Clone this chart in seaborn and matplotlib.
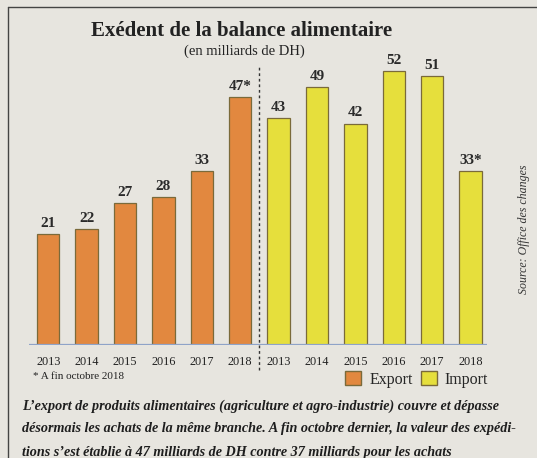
import pandas as pd
import matplotlib
matplotlib.use('Agg')
import matplotlib.pyplot as plt
import seaborn as sns
from matplotlib.patches import Patch

# data (milliards de DH)
years = ['2013', '2014', '2015', '2016', '2017', '2018']
export_vals = [21, 22, 27, 28, 33, 47]
import_vals = [43, 49, 42, 52, 51, 33]
export_labels = ['21', '22', '27', '28', '33', '47*']
import_labels = ['43', '49', '42', '52', '51', '33*']

df = pd.DataFrame({
    'key': ['E' + y for y in years] + ['I' + y for y in years],
    'value': export_vals + import_vals,
    'flow': ['Export'] * 6 + ['Import'] * 6,
    'label': export_labels + import_labels,
})

sns.set_style('white')
plt.rcParams['font.family'] = ['Liberation Serif', 'DejaVu Serif']

bg = '#e7e5df'
orange = '#e2883f'
yellow = '#e6df3c'
edge = '#7a6a3a'

fig = plt.figure(figsize=(5.37, 4.58), dpi=100, facecolor=bg)
ax = fig.add_axes([0.054, 0.2467, 0.853, 0.6215])
ax.set_facecolor('none')

sns.barplot(data=df, x='key', y='value', hue='flow', dodge=False,
            palette={'Export': orange, 'Import': yellow}, width=0.585,
            saturation=1, edgecolor=edge, linewidth=0.9, legend=False, ax=ax)

ax.set_xlim(-0.5, 11.43)
ax.set_ylim(0, 54)

# value labels above the bars
for i, (v, lab) in enumerate(zip(df['value'], df['label'])):
    ax.annotate(lab, (i, v), xytext=(0, 3), textcoords='offset points',
                ha='center', va='bottom', fontsize=11, fontweight='bold',
                color='#2a2a2a')

# dotted separator between export and import
ax.plot([5.5, 5.5], [-4.8, 52.8], ls=(0, (2, 2)), color='#333333', lw=1.0,
        clip_on=False)

ax.axhline(0, color='#8fa3c8', lw=1.6)
for s in ax.spines.values():
    s.set_visible(False)

ax.set_xticks(range(12))
ax.set_xticklabels(years + years, fontsize=8.8, color='#222222')
ax.tick_params(axis='x', length=0, pad=8)
ax.set_yticks([])
ax.set_xlabel('')
ax.set_ylabel('')

# titles
fig.text(0.450, 0.932, 'Exédent de la balance alimentaire', ha='center',
         va='center', fontsize=15, fontweight='bold', color='#222222')
fig.text(0.455, 0.889, '(en milliards de DH)', ha='center', va='center',
         fontsize=10.5, color='#222222')

# footnote and source
fig.text(0.062, 0.177, '* A fin octobre 2018', ha='left', va='center',
         fontsize=8, color='#222222')
fig.text(0.976, 0.50, 'Source: Office des changes', rotation=90,
         ha='center', va='center', fontsize=8.6, style='italic', color='#333333')

handles = [Patch(facecolor=orange, edgecolor=edge, label='Export'),
           Patch(facecolor=yellow, edgecolor=edge, label='Import')]
fig.legend(handles=handles, loc='center', bbox_to_anchor=(0.776, 0.172),
           ncol=2, frameon=False, fontsize=11.5, handlelength=1.0,
           handleheight=1.0, handletextpad=0.5, columnspacing=0.5)

# caption underneath
caption = [
    'L\u2019export de produits alimentaires (agriculture et agro-industrie) couvre et dépasse',
    'désormais les achats de la même branche. A fin octobre dernier, la valeur des expédi-',
    'tions s\u2019est établie à 47 milliards de DH contre 37 milliards pour les achats',
]
for k, line in enumerate(caption):
    fig.text(0.041, 0.114 - k * 0.0505, line, ha='left', va='center',
             fontsize=10.2, fontweight='bold', style='italic', color='#1e1e1e')

# frame lines of the newspaper box
fig.add_artist(plt.Line2D([0.015, 1.0], [0.985, 0.985], color='#444444', lw=1.0))
fig.add_artist(plt.Line2D([0.015, 0.015], [0.0, 0.985], color='#444444', lw=1.0))

fig.savefig('out.png', dpi=100, facecolor=bg)
